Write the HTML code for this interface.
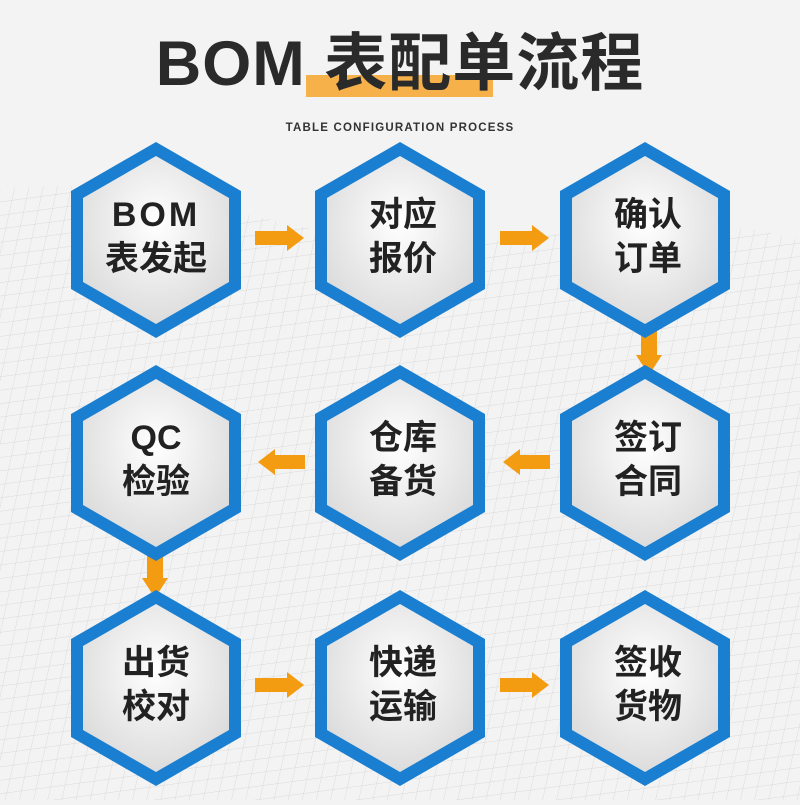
<!DOCTYPE html>
<html><head><meta charset="utf-8"><style>
html,body{margin:0;padding:0;}
body{width:800px;height:800px;overflow:hidden;background:#f3f3f3;font-family:"Liberation Sans","Noto Sans CJK SC",sans-serif;}
</style></head><body>
<svg width="800" height="800" viewBox="0 0 800 800" xmlns="http://www.w3.org/2000/svg">
<defs>
<radialGradient id="g" cx="50%" cy="40%" r="60%">
<stop offset="0" stop-color="#ffffff"/><stop offset="1" stop-color="#dcdcdc"/>
</radialGradient>
<pattern id="mesh" width="14" height="14" patternUnits="userSpaceOnUse" patternTransform="skewX(-20) rotate(-8)">
<path d="M0 0H14M0 0V14" stroke="#c8c8c8" stroke-width="0.7" fill="none"/>
</pattern>
<g id="hex">
<polygon points="0,-98 85,-49 85,49 0,98 -85,49 -85,-49" fill="#1a7fd0"/>
<polygon points="0,-84 73,-42 73,42 0,84 -73,42 -73,-42" fill="url(#g)"/>
</g>
</defs>
<rect width="800" height="800" fill="#f3f3f3"/>
<path d="M0 190 C150 170 250 230 400 240 C550 250 650 200 800 240 L800 800 L0 800 Z" fill="url(#mesh)" opacity="0.8"/>
<rect x="306" y="75" width="187" height="22" fill="#f7b14a"/>
<text x="400" y="85" text-anchor="middle" font-size="63" font-weight="bold" fill="#2a2a2a" letter-spacing="1">BOM 表配单流程</text>
<text x="400" y="131" text-anchor="middle" font-size="11.5" font-weight="bold" fill="#333" letter-spacing="1.2">TABLE CONFIGURATION PROCESS</text>

<g fill="#f39c12">
<polygon points="255,231 287,231 287,225 304,238 287,251 287,245 255,245"/>
<polygon points="500,231 532,231 532,225 549,238 532,251 532,245 500,245"/>
<polygon points="641,325 657,325 657,355 662,355 649,375 636,355 641,355"/>
<polygon points="305,455 275,455 275,449 258,462 275,475 275,469 305,469"/>
<polygon points="550,455 520,455 520,449 503,462 520,475 520,469 550,469"/>
<polygon points="147,548 163,548 163,578 168,578 155,598 142,578 147,578"/>
<polygon points="255,678 287,678 287,672 304,685 287,698 287,692 255,692"/>
<polygon points="500,678 532,678 532,672 549,685 532,698 532,692 500,692"/>
</g>

<use href="#hex" x="156" y="240"/><use href="#hex" x="400" y="240"/><use href="#hex" x="645" y="240"/>
<use href="#hex" x="156" y="463"/><use href="#hex" x="400" y="463"/><use href="#hex" x="645" y="463"/>
<use href="#hex" x="156" y="688"/><use href="#hex" x="400" y="688"/><use href="#hex" x="645" y="688"/>

<g font-size="34" font-weight="bold" fill="#222" text-anchor="middle">
<text x="156" y="226" letter-spacing="3">BOM</text><text x="156" y="270">表发起</text>
<text x="403" y="226">对应</text><text x="403" y="270">报价</text>
<text x="648" y="226">确认</text><text x="648" y="270">订单</text>
<text x="156" y="449">QC</text><text x="156" y="493">检验</text>
<text x="403" y="449">仓库</text><text x="403" y="493">备货</text>
<text x="648" y="449">签订</text><text x="648" y="493">合同</text>
<text x="156" y="674">出货</text><text x="156" y="718">校对</text>
<text x="403" y="674">快递</text><text x="403" y="718">运输</text>
<text x="648" y="674">签收</text><text x="648" y="718">货物</text>
</g>
</svg>
</body></html>
